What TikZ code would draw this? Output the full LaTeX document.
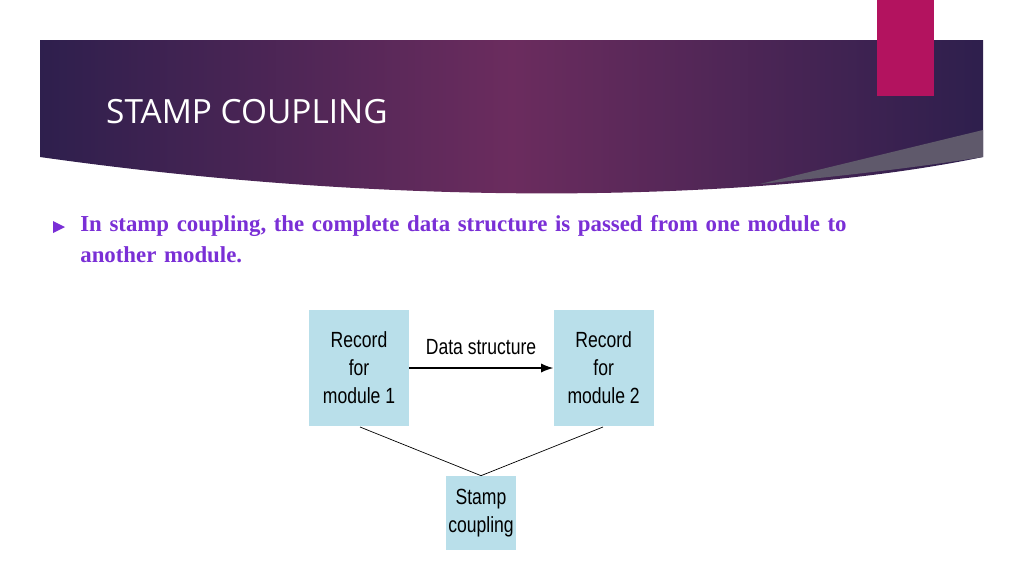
\documentclass[tikz,border=0pt]{standalone}
\usepackage{fontspec}
\setmainfont{Liberation Serif}
\newfontfamily\titlefont{Open Sans}
\newfontfamily\boxfont[FakeStretch=0.8]{Liberation Sans}
\usetikzlibrary{positioning}
\usetikzlibrary{arrows.meta}
\definecolor{bandA}{HTML}{2E1F4D}
\definecolor{bandB}{HTML}{6B2C5E}
\definecolor{pinkbar}{HTML}{B3135F}
\definecolor{bulletc}{HTML}{7A2FD6}
\definecolor{boxblue}{HTML}{B9DFEA}
\tikzset{rec/.style={fill=boxblue, minimum width=2cm, minimum height=2.32cm, align=center, font=\boxfont\fontsize{12.5}{16}\selectfont}}
\begin{document}
\begin{tikzpicture}[x=0.02cm,y=-0.02cm]
		\useasboundingbox (0,0) rectangle (1024,576);
		\fill[white] (0,0) rectangle (1024,576);
		\shade[left color=bandA, right color=bandA, middle color=bandB] (40,40) -- (983,40) -- (983,157) .. controls (800,195) and (450,215) .. (40,157) -- cycle;
		\fill[gray!60!bandA] (983,130) -- (983,157) .. controls (900,170) and (820,178) .. (760,184) -- cycle;
		\fill[pinkbar] (877,0) rectangle (934,96);
		\node (title) [anchor=west, text=white, font=\titlefont\fontsize{19}{24}\selectfont] at (100,112) {STAMP COUPLING};
		\fill[bulletc] (53,221) -- (65,227) -- (53,233) -- cycle;
		\node (txt) [anchor=north west, text width=16.9cm, align=left, text=bulletc, font=\bfseries\fontsize{13}{17.5}\selectfont, inner sep=0] at (80,215) {In stamp coupling, the complete data structure is passed from one module to\\another module.};
		\node (r1) [rec] at (359,368) {Record\\for\\module 1};
		\node (r2) [rec, right=2.88cm of r1] {Record\\for\\module 2};
		\node (sc) [rec, minimum width=1.4cm, minimum height=1.48cm, inner xsep=1pt] at (481,513) {Stamp\\coupling};
		\node (lbl) [font=\boxfont\fontsize{12.5}{14}\selectfont] at (481,347) {Data structure};
		\draw[-{Latex[length=7pt]}, thick] (r1) -- (r2);
		\draw (360,427) -- (sc.north);
		\draw (603,427) -- (sc.north);
		\end{tikzpicture}
\end{document}
